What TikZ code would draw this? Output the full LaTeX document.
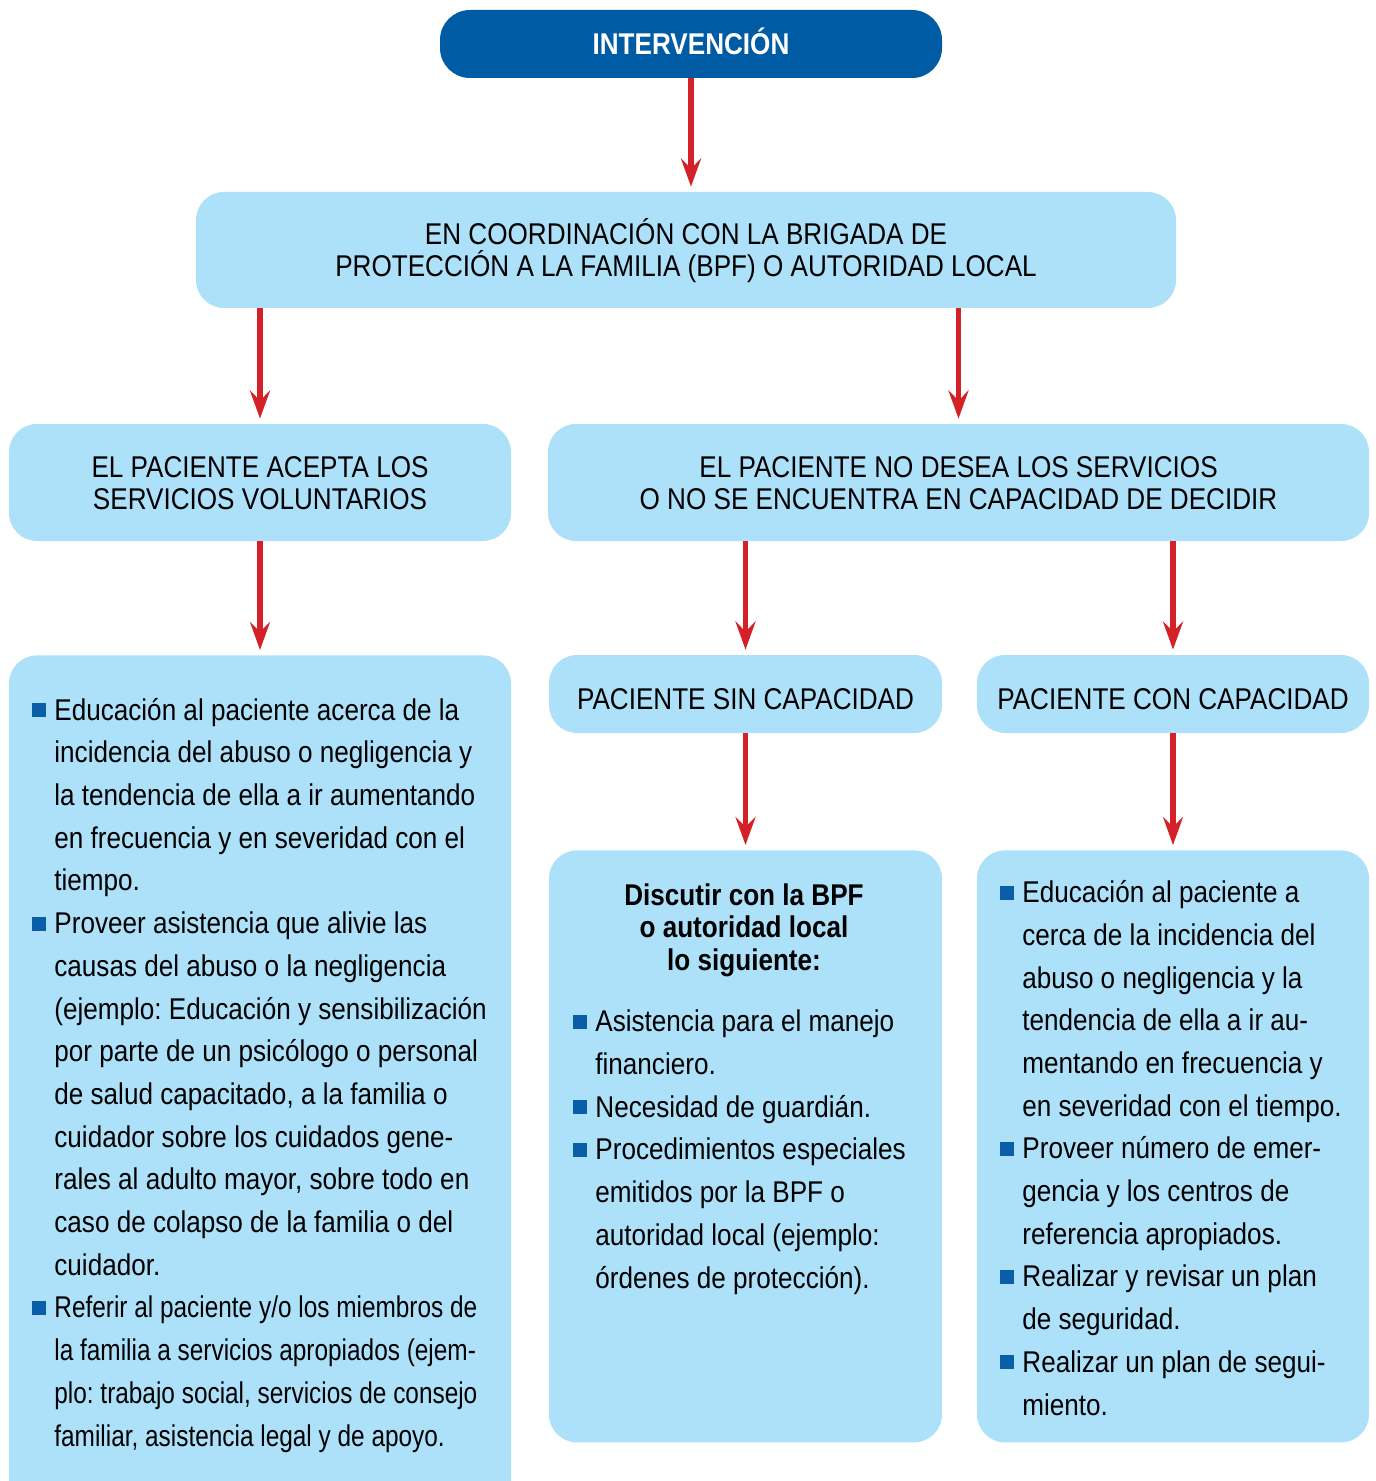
\documentclass[tikz,border=0pt]{standalone}
\usepackage{fontspec}
\setmainfont{Liberation Sans}[FakeStretch=0.87]
\newfontfamily\narrowfont{Liberation Sans}[FakeStretch=0.813]
\usetikzlibrary{arrows.meta}
\frenchspacing
\definecolor{darkblue}{HTML}{005BA5}
\definecolor{lightblue}{HTML}{ADE1FA}
\definecolor{arrowred}{HTML}{D42027}
\definecolor{bulletblue}{HTML}{0A5EA8}
\newcommand{\bul}{\llap{\textcolor{bulletblue}{\rule[1.5pt]{7pt}{7pt}}\hspace{4pt}}}
\tikzset{
  box/.style={fill=lightblue, rounded corners=14pt, inner sep=0pt, align=center,
    font=\fontsize{15}{16}\selectfont},
  twoline/.style={text height=26.74pt, text depth=0pt},
  oneline/.style={text height=15.74pt, text depth=0pt},
  topbox/.style={fill=darkblue, rounded corners=15pt, inner sep=0pt, text=white,
    text height=10.74pt, text depth=0pt,
    font=\fontsize{15}{16}\selectfont\bfseries},
  bodytext/.style={inner sep=0pt, align=left, anchor=base west,
    font=\fontsize{15}{21.35}\selectfont},
  headtext/.style={inner sep=0pt, align=center, anchor=base,
    font=\fontsize{15}{16.25}\selectfont\bfseries},
  arr/.style={draw=arrowred, line width=2.6pt,
    -{Stealth[length=14pt,width=10pt,inset=5pt]}, shorten >=2.5pt}
}
\begin{document}
\begin{tikzpicture}[x=0.5pt,y=-0.5pt]
\useasboundingbox (0,0) rectangle (1375,1481);
\clip (0,0) rectangle (1375,1481);
% boxes
\node[topbox, minimum width=251pt, minimum height=34pt] (top) at (691,44) {INTERVENCIÓN};
\node[box, twoline, minimum width=490pt, minimum height=58pt] (coord) at (686,250)
  {EN COORDINACIÓN CON LA BRIGADA DE\\PROTECCIÓN A LA FAMILIA (BPF) O AUTORIDAD LOCAL};
\node[box, twoline, minimum width=251pt, minimum height=58.5pt] (acepta) at (260,482.5)
  {EL PACIENTE ACEPTA LOS\\SERVICIOS VOLUNTARIOS};
\node[box, twoline, minimum width=410.5pt, minimum height=58.5pt] (nodesea) at (958.5,482.5)
  {EL PACIENTE NO DESEA LOS SERVICIOS\\O NO SE ENCUENTRA EN CAPACIDAD DE DECIDIR};
\node[box, minimum width=251pt, minimum height=430pt, anchor=north] (left) at (260,655) {};
\node[box, oneline, minimum width=196.5pt, minimum height=39pt] (sin) at (745.5,694)
  {PACIENTE SIN CAPACIDAD};
\node[box, oneline, minimum width=196pt, minimum height=39pt] (con) at (1173,694)
  {PACIENTE CON CAPACIDAD};
\node[box, minimum width=196.5pt, minimum height=296pt, anchor=north] (mid) at (745.5,850) {};
\node[box, minimum width=196pt, minimum height=296pt, anchor=north] (right) at (1173,850) {};
% texts (anchor base = baseline of the last line)
\node[bodytext] (lefttext) at (54,1446) {%
\bul Educación al paciente acerca de la\\
incidencia del abuso o negligencia y\\
la tendencia de ella a ir aumentando\\
en frecuencia y en severidad con el\\
tiempo.\\
\bul Proveer asistencia que alivie las\\
causas del abuso o la negligencia\\
(ejemplo: Educación y sensibilización\\
por parte de un psicólogo o personal\\
de salud capacitado, a la familia o\\
cuidador sobre los cuidados gene-\\
rales al adulto mayor, sobre todo en\\
caso de colapso de la familia o del\\
cuidador.\\
\bul{\narrowfont Referir al paciente y/o los miembros de}\\
{\narrowfont la familia a servicios apropiados (ejem-}\\
{\narrowfont plo: trabajo social, servicios de consejo}\\
{\narrowfont familiar, asistencia legal y de apoyo.}};
\node[headtext] (midhead) at (744,970) {Discutir con la BPF\\o autoridad local\\lo siguiente:};
\node[bodytext] (midtext) at (595,1288) {%
\bul Asistencia para el manejo\\
financiero.\\
\bul Necesidad de guardián.\\
\bul Procedimientos especiales\\
emitidos por la BPF o\\
autoridad local (ejemplo:\\
órdenes de protección).};
\node[bodytext] (righttext) at (1022,1415) {%
\bul Educación al paciente a\\
cerca de la incidencia del\\
abuso o negligencia y la\\
tendencia de ella a ir au-\\
mentando en frecuencia y\\
en severidad con el tiempo.\\
\bul Proveer número de emer-\\
gencia y los centros de\\
referencia apropiados.\\
\bul Realizar y revisar un plan\\
de seguridad.\\
\bul Realizar un plan de segui-\\
miento.};
% arrows
\draw[arr] (top.south) -- (top.south |- coord.north);
\draw[arr] (coord.south -| acepta.north) -- (acepta.north);
\draw[arr] (coord.south -| nodesea.north) -- (nodesea.north);
\draw[arr] (acepta.south) -- (left.north);
\draw[arr] (nodesea.south -| sin.north) -- (sin.north);
\draw[arr] (nodesea.south -| con.north) -- (con.north);
\draw[arr] (sin.south) -- (mid.north);
\draw[arr] (con.south) -- (right.north);
\end{tikzpicture}
\end{document}
